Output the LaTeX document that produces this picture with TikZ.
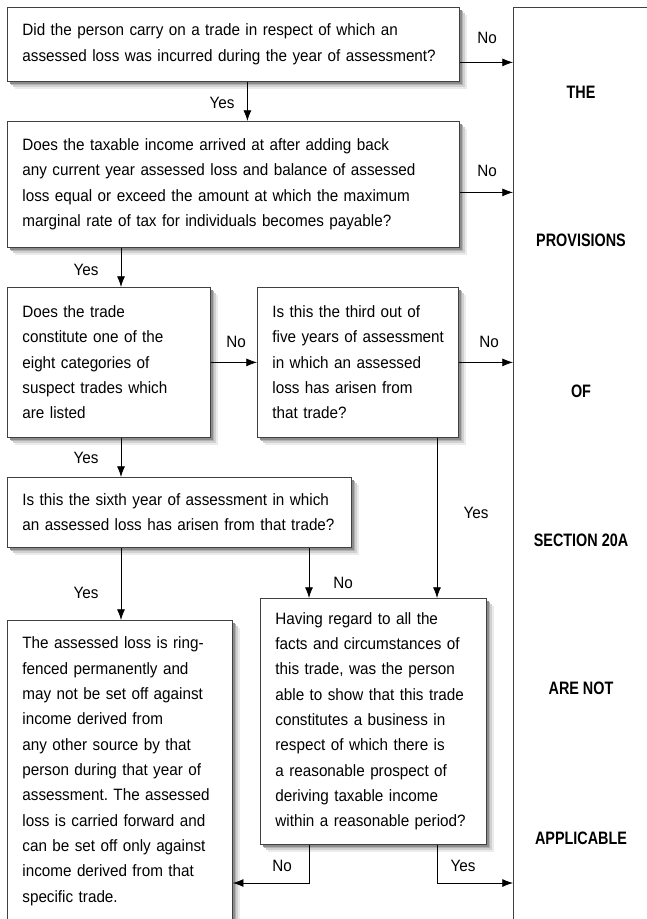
\documentclass[tikz,border=0pt]{standalone}
\usepackage{fontspec}
\setmainfont{Liberation Sans}[FakeStretch=0.93]
\newfontfamily\sidefont{Liberation Sans}[FakeStretch=0.8]
\usetikzlibrary{arrows.meta,shadows}
\frenchspacing

\tikzset{
  qbox/.style={draw=black!75, fill=white, line width=0.6pt, anchor=north west,
    inner xsep=8pt, inner ysep=0pt, align=left,
    font=\fontsize{12.3}{19}\selectfont,
    execute at begin node={\leftskip=3.25pt\hyphenpenalty=10000},
    drop shadow={shadow xshift=5.5pt, shadow yshift=-5.5pt, opacity=1, fill=black!8},
    drop shadow={shadow xshift=4.3pt, shadow yshift=-4.3pt, opacity=1, fill=black!18},
    drop shadow={shadow xshift=3pt, shadow yshift=-3pt, opacity=1, fill=black!30},
    drop shadow={shadow xshift=1.6pt, shadow yshift=-1.6pt, opacity=1, fill=black!45}},
  ans/.style={font=\fontsize{12.3}{19}\selectfont, inner sep=0pt},
  side/.style={font=\sidefont\bfseries\fontsize{13.5}{16}\selectfont, inner sep=0pt}
}

\begin{document}
\begin{tikzpicture}[x=0.75pt, y=-0.75pt, >={Latex[length=8pt,width=6pt]}, line width=0.6pt]
\useasboundingbox (0,0) rectangle (646,919);

% the big box on the right
\node[draw=black!75, fill=white, line width=0.6pt, anchor=north west, minimum width=108pt, minimum height=690pt] (rbox) at (513,7) {};
\node[side] (s1) at (581,92) {THE};
\node[side] (s2) at (581,240) {PROVISIONS};
\node[side] (s3) at (581,391) {OF};
\node[side] (s4) at (581,540) {SECTION 20A};
\node[side] (s5) at (581,688) {ARE NOT};
\node[side] (s6) at (581,838) {APPLICABLE};

% questions
\node[qbox, minimum width=339pt, minimum height=55.5pt, text width=323pt] (q1) at (7,7)
  {Did the person carry on a trade in respect of which an\\assessed loss was incurred during the year of assessment?};
\node[qbox, minimum width=339pt, minimum height=94.5pt, text width=323pt] (q2) at (7,121)
  {Does the taxable income arrived at after adding back\\any current year assessed loss and balance of assessed\\loss equal or exceed the amount at which the maximum\\marginal rate of tax for individuals becomes payable?};
\node[qbox, minimum width=152.25pt, minimum height=112.5pt, text width=136.25pt] (q3) at (7,287)
  {Does the trade\\constitute one of the\\eight categories of\\suspect trades which\\are listed};
\node[qbox, minimum width=150.75pt, minimum height=112.5pt, text width=134.75pt] (q4) at (257,287)
  {Is this the third out of\\five years of assessment\\in which an assessed\\loss has arisen from\\that trade?};
\node[qbox, minimum width=258pt, minimum height=52.5pt, text width=242pt] (q5) at (7,477)
  {Is this the sixth year of assessment in which\\an assessed loss has arisen from that trade?};
\node[qbox, minimum width=169.5pt, minimum height=184.5pt, text width=153.5pt] (q6) at (260,598)
  {Having regard to all the\\facts and circumstances of\\this trade, was the person\\able to show that this trade\\constitutes a business in\\respect of which there is\\a reasonable prospect of\\deriving taxable income\\within a reasonable period?};
\node[qbox, minimum width=168.75pt, minimum height=226.5pt, text width=152.75pt] (q7) at (7,620)
  {The assessed loss is ring-\\fenced permanently and\\may not be set off against\\income derived from\\any other source by that\\person during that year of\\assessment. The assessed\\loss is carried forward and\\can be set off only against\\income derived from that\\specific trade.};

% columns and rows of the connectors
\coordinate (c1) at (121,0);
\coordinate (c2) at (309,0);
\coordinate (c3) at (437,0);
\coordinate (r1) at (0,883);
\coordinate (n1) at ([yshift=-13.5pt]q1.east);
\coordinate (n2) at ([yshift=-6pt]q2.east);
\coordinate (d1) at ([xshift=10.5pt]q1.south);

\draw[->] (n1) -- (n1 -| rbox.west);
\draw[->] (n2) -- (n2 -| rbox.west);
\draw[->] (d1) -- (d1 |- q2.north);
\draw[->] (c1 |- q2.south) -- (c1 |- q3.north);
\draw[->] (q3.east) -- (q4.west);
\draw[->] (q4.east) -- (q4.east -| rbox.west);
\draw[->] (c1 |- q3.south) -- (c1 |- q5.north);
\draw[->] (c3 |- q4.south) -- (c3 |- q6.north);
\draw[->] (c1 |- q5.south) -- (c1 |- q7.north);
\draw[->] (c2 |- q5.south) -- (c2 |- q6.north);
\draw[->] (c2 |- q6.south) -- (c2 |- r1) -- (q7.east |- r1);
\draw[->] (c3 |- q6.south) -- (c3 |- r1) -- (rbox.west |- r1);

% yes / no
\node[ans] (a1) at (487,38) {No};
\node[ans] (a2) at (222,103) {Yes};
\node[ans] (a3) at (487,171) {No};
\node[ans] (a4) at (86,270) {Yes};
\node[ans] (a5) at (236,342) {No};
\node[ans] (a6) at (489,342) {No};
\node[ans] (a7) at (86,458) {Yes};
\node[ans] (a8) at (476,513) {Yes};
\node[ans] (a9) at (86,593) {Yes};
\node[ans] (a10) at (343,583) {No};
\node[ans] (a11) at (282,866) {No};
\node[ans] (a12) at (463,866) {Yes};

\end{tikzpicture}
\end{document}
